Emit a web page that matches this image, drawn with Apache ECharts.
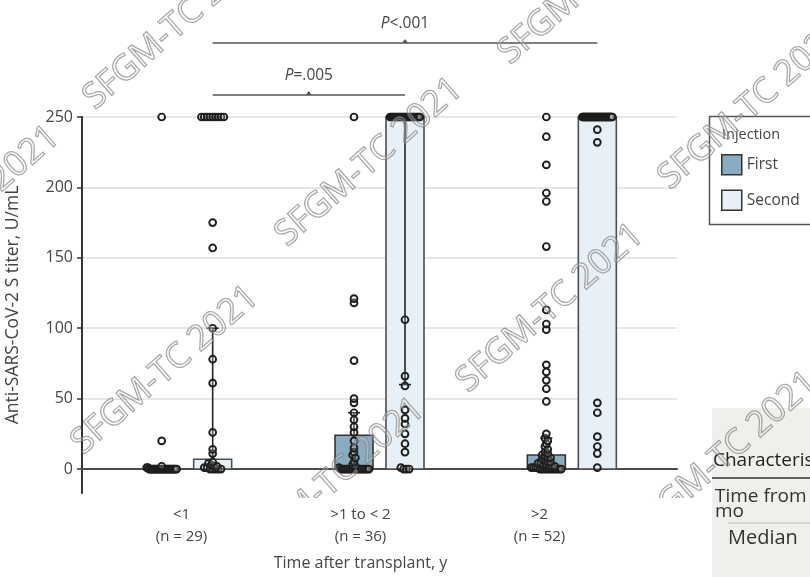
<!DOCTYPE html>
<html>
<head>
<meta charset="utf-8">
<script src="https://cdn.jsdelivr.net/npm/echarts@6/dist/echarts.min.js"></script>
<style>
  html, body { margin: 0; padding: 0; background: #fff; }
  #chart { width: 810px; height: 577px; }
</style>
</head>
<body>
<div id="chart"></div>
<script>
// Time after transplant (years) and patients per group
const groupLabels = ['<1\n(n = 29)', '>1 to < 2\n(n = 36)', '>2\n(n = 52)'];
const yTicks = [0, 50, 100, 150, 200, 250];

// Anti-SARS-CoV-2 S titers (U/mL) after the first injection
const firstLt1 = [250, 20, 2, 1, 1, 0, 0, 0, 0, 0, 0, 0, 0, 0, 0, 0, 0, 0, 0, 0, 0, 0, 0, 0, 0, 0, 0, 0, 0];
const firstMid = [250, 121, 118, 77, 50, 47, 40, 35, 30, 26, 20, 15, 12, 10, 8, 5, 3, 2, 1,
                  0, 0, 0, 0, 0, 0, 0, 0, 0, 0, 0, 0, 0, 0, 0, 0, 0];
const firstGt2 = [250, 236, 216, 196, 190, 158, 113, 103, 99, 74, 69, 63, 57, 48, 25, 22,
                  20, 18, 16, 14, 12, 11, 10, 9, 8, 8, 7, 6, 5, 5, 4, 4, 3, 3, 2, 2, 2, 1, 1, 1, 1,
                  0, 0, 0, 0, 0, 0, 0, 0, 0, 0, 0];

// Anti-SARS-CoV-2 S titers (U/mL) after the second injection
const secondLt1 = [250, 250, 250, 250, 250, 250, 250, 250, 250, 175, 157, 100, 78, 61, 26, 14, 11,
                   5, 4, 3, 2, 2, 1, 1, 0, 0, 0, 0, 0];
const secondMid = [250, 250, 250, 250, 250, 250, 250, 250, 250, 250, 250, 250, 250, 250, 250, 250,
                   250, 250, 250, 250, 250, 250, 250,
                   106, 66, 59, 42, 36, 32, 25, 18, 12, 1, 0, 0, 0];
const secondGt2 = [250, 250, 250, 250, 250, 250, 250, 250, 250, 250, 250, 250, 250, 250, 250, 250,
                   250, 250, 250, 250, 250, 250, 250, 250, 250, 250, 250, 250, 250, 250, 250, 250,
                   250, 250, 250, 250, 250, 250, 250, 250, 250, 250, 250, 250,
                   241, 232, 47, 40, 23, 16, 11, 1];

// Box (25th-75th percentile) and whisker ends, per group
const firstBoxLow = [0, 0, 0];
const firstBoxHigh = [0, 24, 10];
const firstWhiskerFrom = [0, 24, 10];
const firstWhiskerTo = [0, 40, 22];
const secondBoxLow = [0, 0, 0];
const secondBoxHigh = [7, 250, 250];
const secondWhiskerFrom = [7, 250, 250];
const secondWhiskerTo = [100, 60, 250];

// Pairwise comparisons between second-injection groups
const compFrom = [0, 0];
const compTo = [2, 1];
const compRow = [1, 0];
const compSign = ['<', '='];
const compP = ['.001', '.005'];

const FONT = "'Open Sans', 'Noto Sans', sans-serif";
const FIRST_FILL = '#8aacc0';
const SECOND_FILL = '#e7f0f6';
const PAIR_SHIFT = 25.5;
const BOX_HALF = 19;

// spread tied titers sideways so overlapping circles stay readable
function swarm(values, cat) {
  const bins = {};
  values.forEach(function (v) {
    const k = Math.round(v / 3);
    (bins[k] = bins[k] || []).push(v);
  });
  const out = [];
  Object.keys(bins).forEach(function (k) {
    const vs = bins[k];
    const n = vs.length;
    const half = Math.min((n - 1) * 1.4, 15);
    vs.forEach(function (v, i) {
      out.push([cat, v, n > 1 ? -half + (2 * half * i) / (n - 1) : 0]);
    });
  });
  return out;
}

const firstDots = [].concat(swarm(firstLt1, 0), swarm(firstMid, 1), swarm(firstGt2, 2));
const secondDots = [].concat(swarm(secondLt1, 0), swarm(secondMid, 1), swarm(secondGt2, 2));

function boxRows(low, high, wFrom, wTo) {
  return low.map(function (_, i) { return [i, low[i], high[i], wFrom[i], wTo[i]]; });
}

function boxRenderer(shift, fill, edge) {
  return function (params, api) {
    const c = api.value(0);
    const x = api.coord([c, 0])[0] + shift;
    const yLow = api.coord([c, api.value(1)])[1];
    const yHigh = api.coord([c, api.value(2)])[1];
    const children = [{
      type: 'rect',
      shape: { x: x - BOX_HALF, y: yHigh, width: BOX_HALF * 2, height: yLow - yHigh },
      style: { fill: fill, stroke: edge, lineWidth: 1.6 }
    }];
    if (api.value(3) !== api.value(4)) {
      const yA = api.coord([c, api.value(3)])[1];
      const yB = api.coord([c, api.value(4)])[1];
      children.push({ type: 'line', shape: { x1: x, y1: yA, x2: x, y2: yB },
        style: { stroke: '#222', lineWidth: 1.6 } });
      children.push({ type: 'line', shape: { x1: x - 6, y1: yB, x2: x + 6, y2: yB },
        style: { stroke: '#222', lineWidth: 1.6 } });
    }
    return { type: 'group', children: children };
  };
}

function dotRenderer(shift) {
  return function (params, api) {
    const p = api.coord([api.value(0), api.value(1)]);
    return {
      type: 'circle',
      shape: { cx: p[0] + shift + api.value(2), cy: p[1], r: 3.4 },
      style: { fill: 'rgba(255,255,255,0.2)', stroke: '#1e1e1e', lineWidth: 1.9 }
    };
  };
}

function bracketRenderer(params, api) {
  const i = params.dataIndex;
  const xa = api.coord([compFrom[i], 0])[0] + PAIR_SHIFT;
  const xb = api.coord([compTo[i], 0])[0] + PAIR_SHIFT;
  const top = api.coord([0, 250])[1];
  const y = top - 22 - compRow[i] * 52;
  const xm = (xa + xb) / 2;
  return {
    type: 'group',
    children: [
      { type: 'line', shape: { x1: xa, y1: y, x2: xb, y2: y }, style: { stroke: '#555', lineWidth: 1.5 } },
      { type: 'polygon', shape: { points: [[xm - 3, y], [xm + 3, y], [xm, y - 4]] }, style: { fill: '#555' } },
      { type: 'text', x: xm, y: y - 19,
        style: { text: '{i|P}' + compSign[i] + compP[i], align: 'center', verticalAlign: 'middle',
          fill: '#444', font: '15.5px ' + FONT,
          rich: { i: { fontStyle: 'italic', fontSize: 15.5, fontFamily: FONT, fill: '#444' } } } }
    ]
  };
}

// faint diagonal copyright stamps laid over the figure
const stampCenters = [[177, 25], [-34, 210], [165, 370], [369, 162], [592, -20], [550, 308],
                      [331, 482], [752, 105], [724, 456]];
const stamps = stampCenters.map(function (c) {
  return {
    type: 'text', x: c[0], y: c[1], rotation: 0.72, z: 10, silent: true,
    style: { text: 'SFGM-TC 2021', align: 'center', verticalAlign: 'middle',
      font: "35px 'Open Sans', sans-serif",
      fill: 'rgba(255,255,255,0.2)', stroke: 'rgba(120,120,120,0.7)', lineWidth: 1.3 }
  };
});

const hiddenY = { type: 'value', min: -17, max: 250, show: false };

const chart = echarts.init(document.getElementById('chart'), null, { renderer: 'canvas' });
chart.setOption({
  animation: false,
  backgroundColor: '#fff',
  textStyle: { fontFamily: FONT },
  grid: [
    { left: 82, right: 133, top: 117, bottom: 84, outerBoundsMode: 'none' },
    { left: 91, right: 142, top: 117, bottom: 84, outerBoundsMode: 'none' },
    { left: 92, right: 181, top: 117, bottom: 84, outerBoundsMode: 'none' }
  ],
  xAxis: [
    { gridIndex: 0, type: 'category', data: groupLabels,
      axisLine: { lineStyle: { color: '#4a4a4a', width: 2.2 } },
      axisTick: { show: false }, axisLabel: { show: false }, splitLine: { show: false } },
    { gridIndex: 1, type: 'category', data: groupLabels, show: false },
    { gridIndex: 2, type: 'category', data: groupLabels, z: 20,
      axisLine: { show: false }, axisTick: { show: false }, splitLine: { show: false },
      axisLabel: { margin: 11, fontSize: 15, lineHeight: 22, color: '#444', fontFamily: FONT },
      name: 'Time after transplant, y', nameLocation: 'middle', nameGap: 62,
      nameTextStyle: { fontSize: 16, color: '#444', fontFamily: FONT } }
  ],
  yAxis: [
    { gridIndex: 0, type: 'value', min: -17, max: 250,
      axisLine: { show: true, lineStyle: { color: '#333', width: 2 } },
      axisTick: { show: true, length: 5, customValues: yTicks, lineStyle: { color: '#333', width: 1.5 } },
      axisLabel: { customValues: yTicks, margin: 9, fontSize: 16, color: '#444', fontFamily: FONT },
      splitLine: { show: true, lineStyle: { color: '#dedede', width: 1.6 } },
      name: 'Anti-SARS-CoV-2 S titer, U/mL', nameLocation: 'middle', nameGap: 60,
      nameTextStyle: { fontSize: 17.5, color: '#444', fontFamily: FONT } },
    Object.assign({ gridIndex: 1 }, hiddenY),
    Object.assign({ gridIndex: 2 }, hiddenY)
  ],
  legend: {
    orient: 'vertical', left: 721, top: 154, padding: 0, itemWidth: 20, itemHeight: 20, itemGap: 14,
    selectedMode: false,
    textStyle: { fontSize: 15.5, color: '#444', fontFamily: FONT },
    data: [
      { name: 'First', icon: 'rect', itemStyle: { color: FIRST_FILL, borderColor: '#333', borderWidth: 1.5 } },
      { name: 'Second', icon: 'rect', itemStyle: { color: SECOND_FILL, borderColor: '#333', borderWidth: 1.5 } }
    ]
  },
  graphic: [
    // legend frame and heading
    { type: 'rect', left: 707, top: 114, z: 3, silent: true,
      shape: { width: 130, height: 108 }, style: { fill: 'none', stroke: '#555', lineWidth: 1.5 } },
    { type: 'text', x: 722, y: 135, z: 3, silent: true,
      style: { text: 'Injection', font: '14.5px ' + FONT, fill: '#444', verticalAlign: 'middle' } },
    // table panel at the lower right
    { type: 'rect', x: 712, y: 408, z: 5, silent: true,
      shape: { width: 120, height: 180 }, style: { fill: '#efefec' } },
    { type: 'text', x: 713, y: 461, z: 8, silent: true,
      style: { text: 'Characteristic', font: '19px ' + FONT, fill: '#222', verticalAlign: 'middle' } },
    { type: 'line', z: 8, silent: true, shape: { x1: 712, y1: 478, x2: 832, y2: 478 },
      style: { stroke: '#333', lineWidth: 1.5 } },
    { type: 'text', x: 715, y: 497, z: 8, silent: true,
      style: { text: 'Time from transplant,', font: '19px ' + FONT, fill: '#333', verticalAlign: 'middle' } },
    { type: 'text', x: 715, y: 512, z: 8, silent: true,
      style: { text: 'mo', font: '19px ' + FONT, fill: '#333', verticalAlign: 'middle' } },
    { type: 'line', z: 8, silent: true, shape: { x1: 728, y1: 523, x2: 832, y2: 523 },
      style: { stroke: '#bbb', lineWidth: 1 } },
    { type: 'text', x: 728, y: 538, z: 8, silent: true,
      style: { text: 'Median', font: '20px ' + FONT, fill: '#333', verticalAlign: 'middle' } },
    // white band under the axis that hides the stamps
    { type: 'rect', x: 0, y: 498, z: 15, silent: true,
      shape: { width: 712, height: 80 }, style: { fill: '#fff' } }
  ].concat(stamps),
  series: [
    { name: 'First', type: 'custom', xAxisIndex: 1, yAxisIndex: 1,
      itemStyle: { color: FIRST_FILL },
      renderItem: boxRenderer(-PAIR_SHIFT, FIRST_FILL, '#333'),
      data: boxRows(firstBoxLow, firstBoxHigh, firstWhiskerFrom, firstWhiskerTo) },
    { name: 'Second', type: 'custom', xAxisIndex: 1, yAxisIndex: 1,
      itemStyle: { color: SECOND_FILL },
      renderItem: boxRenderer(PAIR_SHIFT, SECOND_FILL, '#4d4d4d'),
      data: boxRows(secondBoxLow, secondBoxHigh, secondWhiskerFrom, secondWhiskerTo) },
    { name: 'First titers', type: 'custom', xAxisIndex: 1, yAxisIndex: 1,
      renderItem: dotRenderer(-PAIR_SHIFT), data: firstDots },
    { name: 'Second titers', type: 'custom', xAxisIndex: 1, yAxisIndex: 1,
      renderItem: dotRenderer(PAIR_SHIFT), data: secondDots },
    { name: 'Comparisons', type: 'custom', xAxisIndex: 1, yAxisIndex: 1, clip: false,
      renderItem: bracketRenderer, data: compFrom.map(function (_, i) { return [i]; }) }
  ]
});
</script>
</body>
</html>
